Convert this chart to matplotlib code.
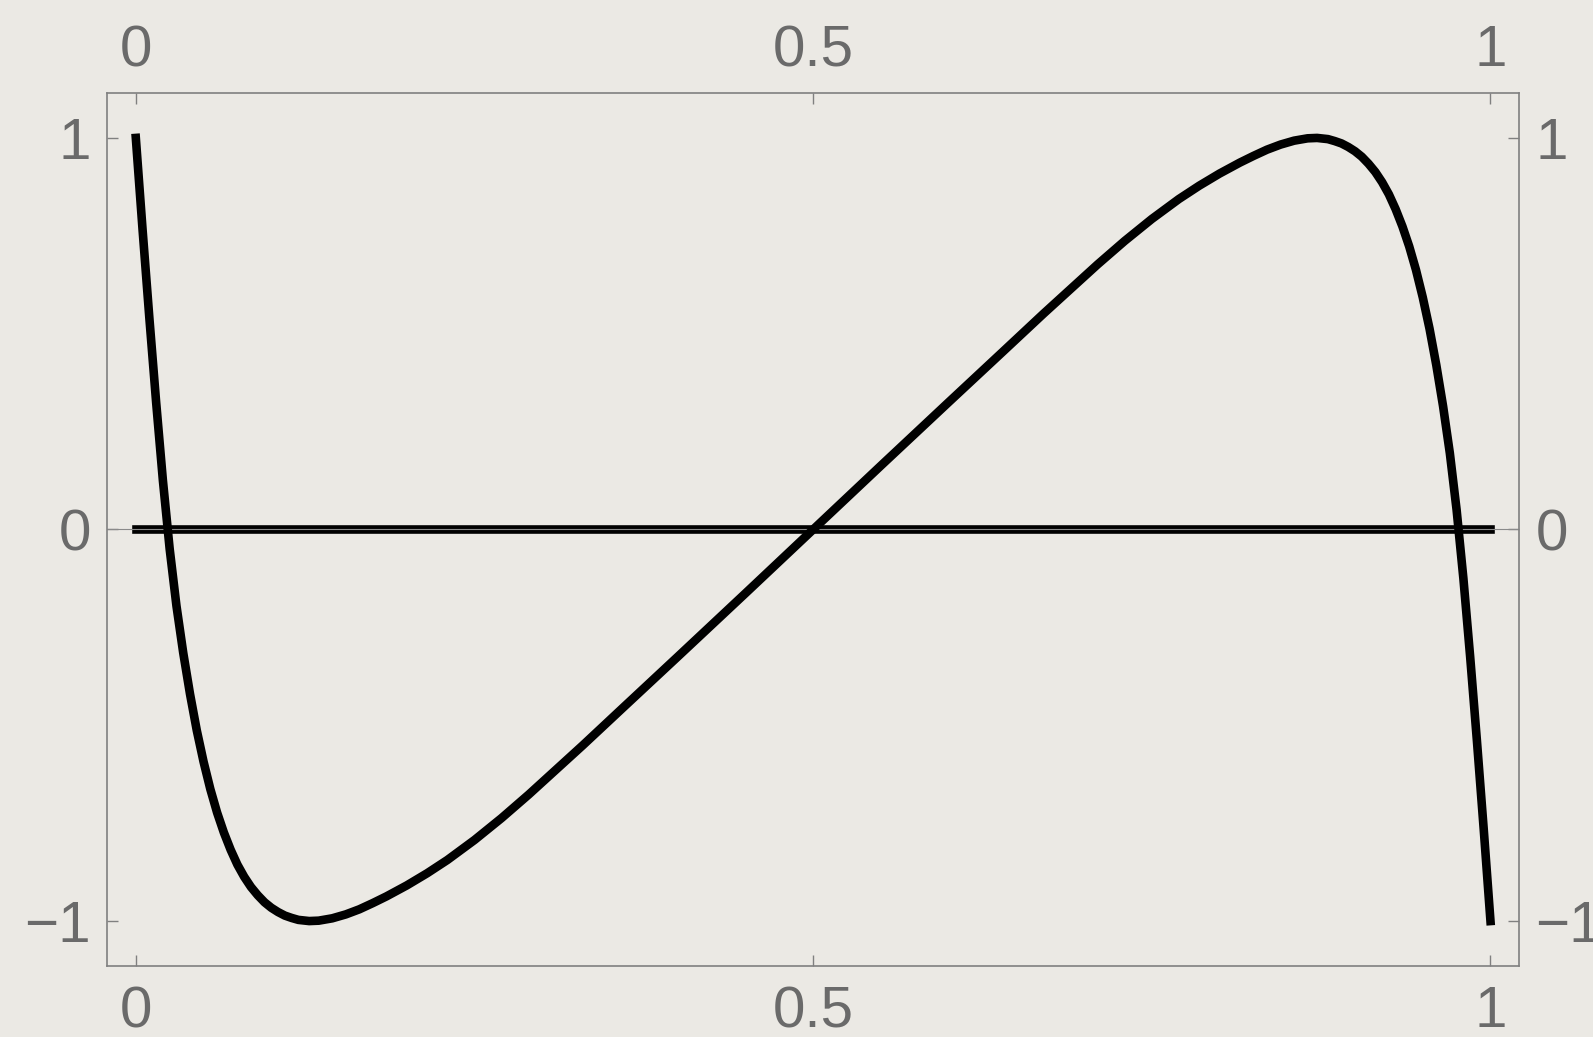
import matplotlib
matplotlib.use("Agg")
import matplotlib.pyplot as plt
from matplotlib.transforms import blended_transform_factory, offset_copy

# Curve samples (x, y)
x_vals = [0.000, 0.005, 0.010, 0.015, 0.020, 0.025, 0.030, 0.035, 0.040, 0.045,
          0.050, 0.055, 0.060, 0.065, 0.070, 0.075, 0.080, 0.085, 0.090, 0.095,
          0.100, 0.105, 0.110, 0.115, 0.120, 0.128, 0.135, 0.145, 0.155, 0.165,
          0.175, 0.185, 0.200, 0.215, 0.230, 0.250, 0.270, 0.290, 0.310, 0.330,
          0.360, 0.400, 0.450, 0.500, 0.550, 0.600, 0.640, 0.670, 0.690, 0.710,
          0.730, 0.750, 0.770, 0.785, 0.800, 0.815, 0.825, 0.835, 0.845, 0.855,
          0.865, 0.872, 0.880, 0.885, 0.890, 0.895, 0.900, 0.905, 0.910, 0.915,
          0.920, 0.925, 0.930, 0.935, 0.940, 0.945, 0.950, 0.955, 0.960, 0.965,
          0.970, 0.975, 0.980, 0.985, 0.990, 0.995, 1.000]
y_vals = [1.000, 0.765, 0.540, 0.325, 0.125, -0.050, -0.195, -0.315, -0.420, -0.513,
          -0.593, -0.663, -0.723, -0.774, -0.818, -0.856, -0.887, -0.913, -0.934, -0.952,
          -0.966, -0.977, -0.986, -0.992, -0.997, -1.000, -0.999, -0.993, -0.983, -0.970,
          -0.954, -0.937, -0.909, -0.878, -0.844, -0.793, -0.737, -0.677, -0.614, -0.551,
          -0.454, -0.325, -0.163, 0.000, 0.163, 0.325, 0.454, 0.551, 0.614, 0.677,
          0.737, 0.793, 0.844, 0.878, 0.909, 0.937, 0.954, 0.970, 0.983, 0.993,
          0.999, 1.000, 0.997, 0.992, 0.986, 0.977, 0.966, 0.952, 0.934, 0.913,
          0.887, 0.856, 0.818, 0.774, 0.723, 0.663, 0.593, 0.513, 0.420, 0.315,
          0.195, 0.050, -0.125, -0.325, -0.540, -0.765, -1.000]

# Baseline y = 0 over the same domain
base_x = [0.0, 1.0]
base_y = [0.0, 0.0]

x_ticks = [0, 0.5, 1]
x_tick_labels = ["0", "0.5", "1"]
y_ticks = [-1, 0, 1]
y_tick_labels = ["\u22121", "0", "1"]

bg = "#ebe9e4"
frame_col = "#808080"
label_col = "#6a6a6a"
label_size = 42

plt.rcParams["font.family"] = ["Liberation Sans", "DejaVu Sans"]

fig = plt.figure(figsize=(15.93, 10.37), dpi=100, facecolor=bg)
ax = fig.add_axes([0.0674, 0.06876, 0.8861, 0.84127])
ax.set_facecolor(bg)

ax.plot(base_x, base_y, color="black", lw=6.2, solid_capstyle="projecting", zorder=2)
ax.axhline(0, color="#8a8a8a", lw=0.8, zorder=2.5)
ax.plot(x_vals, y_vals, color="black", lw=6.2, solid_capstyle="projecting",
        solid_joinstyle="round", zorder=3)

ax.set_xlim(-0.021, 1.021)
ax.set_ylim(-1.114, 1.114)

for s in ax.spines.values():
    s.set_color(frame_col)
    s.set_linewidth(1.2)

ax.set_xticks(x_ticks)
ax.set_xticklabels(x_tick_labels)
ax.set_yticks(y_ticks)
ax.set_yticklabels(y_tick_labels)
ax.tick_params(axis="both", direction="in", length=8, width=1.0, color=frame_col,
               labelcolor=label_col, labelsize=label_size,
               top=True, right=True, labeltop=True, labelright=True)
ax.tick_params(axis="x", pad=11, labelbottom=False)
ax.tick_params(axis="y", pad=12)

# Bottom tick labels sit a little further from the frame than the top ones
bottom_tf = offset_copy(blended_transform_factory(ax.transData, ax.transAxes),
                        fig=fig, x=0, y=-14, units="points")
for xt, lab in zip(x_ticks, x_tick_labels):
    ax.text(xt, 0, lab, transform=bottom_tf, ha="center", va="top",
            fontsize=label_size, color=label_col, clip_on=False)

fig.savefig("out.png", dpi=100, facecolor=bg)
